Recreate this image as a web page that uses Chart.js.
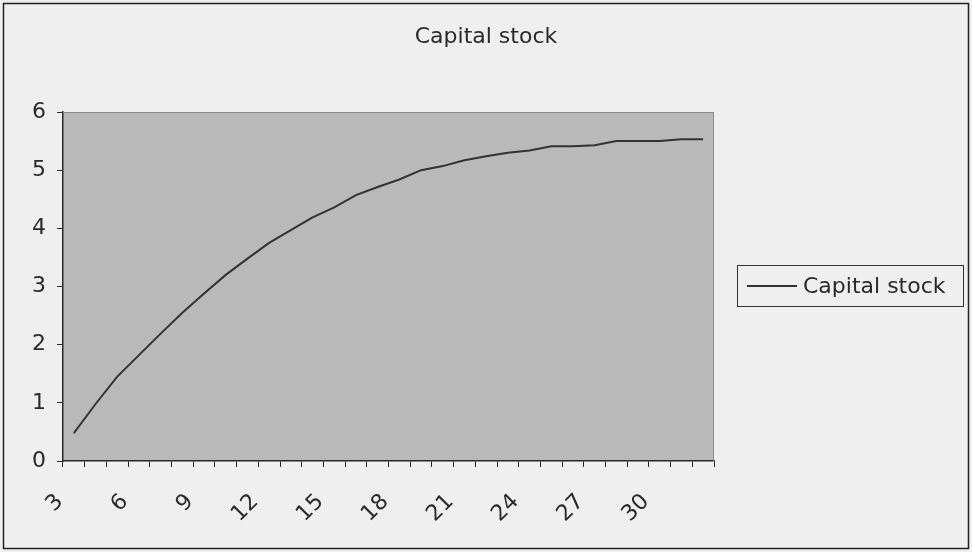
<!DOCTYPE html>
<html>
<head>
<meta charset="utf-8">
<script src="https://cdn.jsdelivr.net/npm/chart.js@4.4.0/dist/chart.umd.min.js"></script>
<style>
  html, body { margin: 0; padding: 0; background: #efefef; }
  #wrap { width: 972px; height: 552px; }
</style>
</head>
<body>
<div id="wrap"><canvas id="capitalChart"></canvas></div>
<script>
const chartTitle = 'Capital stock';
const seriesLabel = 'Capital stock';
const periods = [3, 4, 5, 6, 7, 8, 9, 10, 11, 12, 13, 14, 15, 16, 17,
                 18, 19, 20, 21, 22, 23, 24, 25, 26, 27, 28, 29, 30, 31, 32];
const capitalStock = [0.48, 0.98, 1.45, 1.82, 2.19, 2.55, 2.88, 3.20, 3.48, 3.75,
                      3.97, 4.19, 4.36, 4.57, 4.71, 4.84, 5.00, 5.07, 5.17, 5.24,
                      5.30, 5.34, 5.41, 5.41, 5.43, 5.50, 5.50, 5.50, 5.53, 5.53];
const yMin = 0;
const yMax = 6;
const yStep = 1;

const font = { family: '"DejaVu Sans", Arial, sans-serif', size: 22 };
const ink = '#2a2a2a';

// plot background, frame, title and boxed legend like the old spreadsheet look
const sheetLook = {
    id: 'sheetLook',
    beforeDraw(chart) {
        const { ctx, chartArea: a, width, height } = chart;
        ctx.save();
        ctx.fillStyle = '#efefef';
        ctx.fillRect(0, 0, width, height);
        ctx.fillStyle = '#b9b9b9';
        ctx.fillRect(a.left, a.top, a.right - a.left, a.bottom - a.top);
        ctx.restore();
    },
    afterDraw(chart) {
        const { ctx, chartArea: a, width, height } = chart;
        ctx.save();
        ctx.strokeStyle = '#8a8a8a';
        ctx.lineWidth = 1;
        ctx.beginPath();
        ctx.moveTo(a.left, a.top + 0.5);
        ctx.lineTo(a.right - 0.5, a.top + 0.5);
        ctx.lineTo(a.right - 0.5, a.bottom);
        ctx.stroke();

        ctx.strokeStyle = '#222';
        ctx.lineWidth = 1.5;
        ctx.strokeRect(3.5, 3.5, width - 7, height - 7);

        ctx.fillStyle = ink;
        ctx.font = `${font.size}px ${font.family}`;
        ctx.textAlign = 'center';
        ctx.textBaseline = 'middle';
        ctx.fillText(chartTitle, width / 2, 37);

        const ds = chart.data.datasets[0];
        ctx.strokeStyle = '#333';
        ctx.lineWidth = 1;
        ctx.strokeRect(737.5, 265.5, 226, 41);
        ctx.strokeStyle = ds.borderColor;
        ctx.lineWidth = 2;
        ctx.beginPath();
        ctx.moveTo(747, 286);
        ctx.lineTo(797, 286);
        ctx.stroke();
        ctx.textAlign = 'left';
        ctx.fillText(ds.label, 803, 287);
        ctx.restore();
    }
};

new Chart(document.getElementById('capitalChart'), {
    type: 'line',
    data: {
        labels: periods,
        datasets: [{
            label: seriesLabel,
            data: capitalStock,
            borderColor: '#333',
            borderWidth: 2,
            pointRadius: 0,
            fill: false,
            tension: 0
        }]
    },
    options: {
        responsive: true,
        maintainAspectRatio: false,
        animation: false,
        layout: { padding: { top: 112, right: 258, left: 0, bottom: 0 } },
        scales: {
            x: {
                type: 'category',
                offset: true,
                grid: { offset: true, drawOnChartArea: false, drawTicks: true, tickLength: 6, color: ink },
                border: { color: ink, width: 1.5 },
                ticks: {
                    autoSkip: false,
                    maxRotation: 45,
                    minRotation: 45,
                    padding: 22,
                    labelOffset: -14,
                    color: ink,
                    font: font,
                    callback: (value, index) => periods[index] % 3 === 0 ? String(periods[index]) : ''
                },
                afterFit: scale => { scale.height = 552 - 461; }
            },
            y: {
                min: yMin,
                max: yMax,
                grid: { drawOnChartArea: false, drawTicks: true, tickLength: 6, color: ink },
                border: { color: ink, width: 1.5 },
                ticks: { stepSize: yStep, padding: 11, color: ink, font: font },
                afterFit: scale => { scale.width = 63; }
            }
        },
        plugins: {
            legend: { display: false },
            title: { display: false },
            tooltip: { enabled: false }
        }
    },
    plugins: [sheetLook]
});
</script>
</body>
</html>
